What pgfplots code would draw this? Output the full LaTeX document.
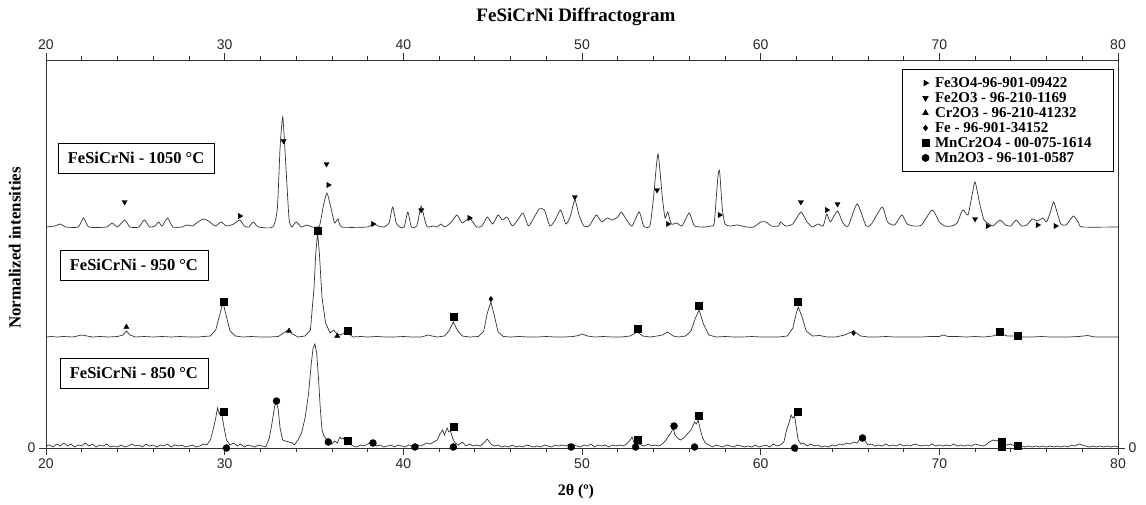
\documentclass[border=0pt]{standalone}
\usepackage{fontspec}
\setmainfont{Liberation Serif}
\newfontfamily\tickfont{Liberation Sans}
\usepackage{pgfplots}
\pgfplotsset{compat=1.18}
\definecolor{ln}{gray}{0.2}
\begin{document}
\begin{tikzpicture}
\pgfplotsset{
  base/.style={scale only axis, width=1072pt, height=388pt,
    xmin=20, xmax=80, ymin=0, ymax=388,
    xtick={20,30,...,80}, minor x tick num=4, ytick={0},
    tick align=outside, major tick length=7pt, minor tick length=4pt,
    /pgf/number format/assume math mode=true,
    tick label style={font=\tickfont\fontsize{14}{14}\selectfont, text=black!85},
    axis line style={ln, line width=0.8pt}, tick style={ln, line width=0.7pt}}
}
\begin{axis}[base, name=main, clip=true,
  legend style={at={(rel axis cs:0.9963,0.977)}, anchor=north east, draw=black, line width=0.8pt,
    font=\bfseries\fontsize{15}{16}\selectfont, inner xsep=20pt, inner ysep=6pt, row sep=-0.5pt,
    /tikz/every odd column/.append style={column sep=4pt}},
  legend cell align=left,
  mk/.style={only marks, black, mark options={solid, fill=black}},
]
% 1050 C
\addplot[ln, line width=0.7pt, smooth, tension=0.35, forget plot] coordinates {
(20,221)(20.5,222)(20.8,224)(21.1,221)(21.8,221)(22.1,230)(22.4,221)(23.4,221)(23.7,225)(24.0,221)(24.4,228)(24.7,221)
(25.2,221)(25.5,228)(25.8,221)(26.1,222)(26.3,226)(26.5,222)(26.8,230)(27.1,221)(27.6,221)(27.9,223)(28.2,222)(28.5,226)
(28.8,229)(29.1,227)(29.3,224)(29.5,222)(29.8,226)(30.1,222)(30.5,224)(30.85,228)(31.1,222)(31.35,221)(31.6,226)(31.9,221)
(32.7,221)(32.95,240)(33.1,300)(33.25,331)(33.4,290)(33.6,230)(33.75,221)(34.0,226)(34.3,221)(34.6,223)(34.9,221)(35.3,222)
(35.5,240)(35.72,255)(35.95,240)(36.15,225)(36.35,229)(36.55,221)(38.0,221)(38.3,224)(38.6,222)(38.9,221)(39.2,225)(39.4,241)(39.6,225)
(39.8,221)(40.05,221)(40.25,236)(40.45,221)(40.75,222)(41.0,242)(41.2,228)(41.35,221)(41.7,222)(41.9,221)(42.1,224)(42.3,221)
(42.5,223)(42.7,226)(43.0,233)(43.3,225)(43.7,230)(44.1,221)(44.4,222)(44.7,231)(45.0,224)(45.3,233)(45.55,228)(45.8,231)
(46.1,222)(46.4,228)(46.7,235)(47.0,222)(47.3,230)(47.6,239)(47.9,238)(48.2,222)(48.5,228)(48.8,238)(49.1,224)(49.35,232)
(49.6,248)(49.85,232)(50.1,222)(50.4,222)(50.8,233)(51.1,226)(51.4,230)(51.7,228)(52.0,231)(52.2,236)(52.5,228)(52.8,222)
(53.2,236)(53.45,222)(53.8,222)(54.0,250)(54.25,294)(54.5,250)(54.65,230)(54.8,236)(55.0,224)(55.3,225)(55.6,222)(56.0,235)
(56.3,222)(56.9,221)(57.2,222)(57.4,225)(57.6,270)(57.7,277)(57.85,240)(58.0,224)(58.3,222)(58.7,223)(59.2,221)(59.6,221)
(60.0,226)(60.3,226)(60.6,222)(61.0,222)(61.1,226)(61.4,222)(61.8,224)(62.25,236)(62.6,226)(62.9,221)(63.2,224)(63.5,222)
(63.7,234)(63.9,226)(64.3,237)(64.6,225)(64.9,222)(65.4,244)(65.9,222)(66.2,224)(66.8,241)(67.1,226)(67.5,223)(67.9,233)
(68.2,224)(68.6,222)(69.0,223)(69.6,238)(70.0,226)(70.3,222)(70.7,222)(71.0,225)(71.3,238)(71.6,233)(71.8,250)(72.0,266)
(72.25,245)(72.5,228)(72.8,224)(73.0,222)(73.4,228)(73.7,223)(74.0,222)(74.3,228)(74.6,222)(74.9,223)(75.2,229)(75.5,227)
(75.8,230)(76.0,226)(76.2,235)(76.4,246)(76.6,235)(76.8,224)(77.1,223)(77.5,232)(77.8,225)(78.0,221)(80,221)};
% 950 C
\addplot[ln, line width=0.7pt, forget plot] coordinates {
(20,111)(20.3,111.5)(20.6,111)(21,111.5)(21.5,111)(22.0,113)(22.3,112)(22.6,111)(23,111.5)(23.5,111)(24.0,111.5)(24.3,113)
(24.5,117)(24.7,113)(25.0,111)(25.5,111.5)(26,111)(26.5,111.5)(27,111)(27.5,111.5)(28,111)(28.5,111)(29.2,112)(29.5,118)
(29.75,135)(29.9,146)(30.05,135)(30.3,117)(30.6,112)(31,111)(31.5,111.5)(32,111)(32.5,111)(33.0,111.5)(33.3,115)(33.55,118)
(33.8,114)(34.1,111)(34.5,112)(34.8,118)(35.0,160)(35.1,195)(35.2,215)(35.3,195)(35.45,150)(35.65,125)(35.9,115)(36.1,118)
(36.3,114)(36.5,113)(36.75,116)(36.95,114)(37.2,111)(37.6,111.5)(38,111)(38.5,111.5)(39,111)(39.5,111)(40,111.5)(40.5,111)
(41,111)(41.4,113)(41.6,112)(41.9,111)(42.3,112)(42.55,117)(42.8,126)(43.05,117)(43.3,112)(43.7,111)(44.2,111.5)(44.5,117)
(44.7,135)(44.9,146)(45.1,132)(45.3,116)(45.6,111.5)(46,111)(46.5,111.5)(47,111)(47.5,111)(48,111.5)(48.5,111)(49,111)
(49.5,111.5)(49.8,112.5)(50.0,114)(50.3,112)(50.7,111)(51.2,111.5)(51.7,111)(52.2,111)(52.7,112)(53.1,116)(53.4,112)(53.8,111)
(54.2,112)(54.5,113)(54.8,116)(55.1,112)(55.4,111)(55.8,112)(56.1,117)(56.35,130)(56.55,138)(56.8,124)(57.1,113)(57.5,111)
(58,111.5)(58.5,111)(59,111)(59.5,111.5)(60,111)(60.5,111)(61,111)(61.5,112)(61.8,120)(62.0,135)(62.1,141)(62.3,132)
(62.55,117)(62.9,112)(63.3,112.5)(63.7,111)(64.2,111)(64.7,113)(65.2,117)(65.6,112)(66,111)(66.5,111)(67,111.5)(67.5,111)
(68,111)(68.5,111)(69,111)(69.5,111.5)(70,111.5)(70.2,113)(70.5,111.5)(71,111.5)(71.5,111)(72,111.5)(72.5,111)(73,112)
(73.4,115)(73.8,112)(74.3,112)(74.7,111)(75.2,111)(75.7,111.5)(76.2,111)(76.7,111)(77.2,111)(77.8,111.5)(78.3,112.5)(78.7,111)
(79.2,111)(80,111)};
% 850 C
\addplot[ln, line width=0.7pt, forget plot] coordinates {
(20.0,2)(20.2,3)(20.4,1)(20.6,4)(20.8,2)(21.0,5)(21.2,2)(21.4,4)(21.6,1)(21.8,3)(22.0,2)(22.2,5)(22.4,2)(22.6,4)(22.8,1)
(23.0,3)(23.2,2)(23.4,4)(23.6,1)(23.8,2)(24.0,1)(24.2,3)(24.4,1)(24.6,2)(24.8,4)(25.0,2)(25.2,3)(25.4,1)(25.6,4)(25.8,2)
(26.0,3)(26.2,1)(26.4,3)(26.6,2)(26.8,4)(27.0,1)(27.2,3)(27.4,2)(27.6,3)(27.8,1)(28.0,2)(28.2,3)(28.4,1)(28.6,2)(28.8,4)
(29.0,3)(29.2,8)(29.35,18)(29.5,30)(29.6,40)(29.7,34)(29.8,38)(29.95,22)(30.1,8)(30.3,3)(30.5,5)(30.7,2)(30.9,4)(31.1,1)
(31.3,3)(31.5,2)(31.7,1)(31.9,3)(32.1,2)(32.3,1)(32.5,10)(32.65,25)(32.8,42)(32.9,46)(33.0,38)(33.1,20)(33.25,8)(33.4,7)
(33.6,6)(33.8,5)(33.9,3)(34.1,8)(34.3,15)(34.5,30)(34.7,55)(34.85,85)(34.95,100)(35.05,104)(35.15,95)(35.25,70)(35.35,40)
(35.45,18)(35.55,12)(35.7,9)(35.85,5)(36.0,4)(36.15,7)(36.3,5)(36.45,11)(36.55,9)(36.65,10)(36.8,3)(37.0,4)(37.2,2)(37.4,1)
(37.6,3)(37.8,2)(38.0,4)(38.2,6)(38.35,5)(38.5,2)(38.7,3)(38.9,1)(39.1,2)(39.3,3)(39.5,1)(39.7,3)(39.9,2)(40.1,1)(40.3,3)
(40.5,2)(40.7,4)(40.9,2)(41.1,3)(41.3,5)(41.5,4)(41.7,6)(41.9,8)(42.05,14)(42.2,18)(42.3,13)(42.45,20)(42.55,16)(42.65,17)
(42.75,10)(42.9,5)(43.1,3)(43.3,6)(43.5,2)(43.7,4)(43.9,2)(44.1,3)(44.3,2)(44.5,5)(44.7,9)(44.9,4)(45.1,2)(45.3,3)(45.5,1)
(45.7,2)(45.9,1)(46.1,3)(46.3,1)(46.5,2)(46.7,1)(46.9,3)(47.1,2)(47.3,1)(47.5,2)(47.7,1)(47.9,3)(48.1,2)(48.3,1)(48.5,3)
(48.7,2)(48.9,3)(49.1,2)(49.3,4)(49.5,3)(49.7,2)(49.9,1)(50.1,3)(50.3,2)(50.5,4)(50.7,1)(50.9,3)(51.1,2)(51.3,3)(51.5,1)
(51.7,3)(51.9,2)(52.1,3)(52.3,2)(52.5,4)(52.7,8)(52.8,11)(52.9,6)(53.0,9)(53.1,5)(53.3,3)(53.5,2)(53.7,4)(53.9,2)(54.1,3)
(54.3,2)(54.5,4)(54.7,8)(54.85,12)(55.0,16)(55.1,20)(55.2,13)(55.35,10)(55.5,8)(55.7,10)(55.9,14)(56.1,18)(56.2,22)(56.3,26)
(56.4,24)(56.5,28)(56.6,20)(56.75,10)(56.9,5)(57.1,3)(57.3,1)(57.5,3)(57.7,2)(57.9,1)(58.1,3)(58.3,2)(58.5,1)(58.7,3)(58.9,2)
(59.1,1)(59.3,2)(59.5,1)(59.7,3)(59.9,1)(60.1,2)(60.3,3)(60.5,1)(60.7,4)(60.9,2)(61.1,3)(61.3,6)(61.45,18)(61.6,26)(61.7,33)
(61.8,30)(61.9,32)(62.0,20)(62.1,8)(62.25,4)(62.4,5)(62.6,2)(62.8,4)(63.0,2)(63.2,3)(63.4,1)(63.6,2)(63.8,1)(64.0,3)(64.2,2)
(64.4,4)(64.6,3)(64.8,5)(65.0,4)(65.2,6)(65.4,5)(65.55,9)(65.7,11)(65.85,7)(66.0,3)(66.2,4)(66.4,2)(66.6,3)(66.8,2)(67.0,4)
(67.2,2)(67.4,3)(67.6,2)(67.8,4)(68.0,2)(68.2,3)(68.4,2)(68.6,4)(68.8,3)(69.0,2)(69.2,3)(69.4,2)(69.6,4)(69.8,2)(70.0,3)
(70.2,2)(70.4,3)(70.6,2)(70.8,4)(71.0,2)(71.2,3)(71.4,2)(71.6,3)(71.8,2)(72.0,4)(72.2,3)(72.4,2)(72.6,3)(72.8,6)(73.0,8)
(73.2,7)(73.4,9)(73.6,5)(73.8,3)(74.0,4)(74.2,2)(74.4,3)(74.6,2)(74.8,1)(75.0,2)(75.2,1)(75.4,2)(75.6,1)(75.8,2)(76.0,1)
(76.2,2)(76.4,1)(76.6,2)(76.8,1)(77.0,2)(77.2,1)(77.4,3)(77.6,2)(77.8,4)(78.0,3)(78.2,2)(78.4,1)(78.6,2)(78.8,1)(79.0,2)
(79.2,1)(79.4,2)(79.6,1)(79.8,2)(80.0,1)};
% markers
% Fe3O4
\addplot[mk, mark=triangle*, mark size=3pt, mark options={rotate=-90}, forget plot] coordinates {
(30.85,232)(35.8,263)(38.3,224)(43.7,230)(54.8,224)(57.7,233)(63.7,238)(72.7,222)(75.5,223)(76.5,222)};
% Fe2O3
\addplot[mk, mark=triangle*, mark size=3pt, mark options={rotate=180}, forget plot] coordinates {
(24.4,246)(33.3,307)(35.7,284)(41.0,238)(49.6,251)(54.2,258)(62.25,246)(64.3,244)(72.0,229)};
% Cr2O3
\addplot[mk, mark=triangle*, mark size=3pt, forget plot] coordinates {
(24.5,121)(33.6,117)(36.3,112)};
% Fe
\addplot[mk, mark=diamond*, mark size=2.6pt, forget plot] coordinates {
(44.9,149)(65.2,115)};
% MnCr2O4
\addplot[mk, mark=square*, mark size=3.5pt, forget plot] coordinates {
(29.95,146)(35.2,217)(36.9,117)(42.8,131)(53.1,119)(56.55,142)(62.1,146)(73.4,116)(74.4,112)
(29.96,36)(36.9,7)(42.8,21)(53.1,8)(56.55,32)(62.1,36)(73.5,6)(73.5,1)(74.4,2)};
% Mn2O3
\addplot[mk, mark=*, mark size=3.5pt, forget plot] coordinates {
(30.1,0)(32.9,47)(35.8,6)(38.3,5)(40.65,1)(42.8,1)(49.4,1)(53.0,1)(55.15,22)(56.3,1)(61.9,0)(65.7,10)};
% legend
\addlegendimage{mk, mark=triangle*, mark size=3pt, mark options={rotate=-90}}
\addlegendentry{Fe3O4-96-901-09422}
\addlegendimage{mk, mark=triangle*, mark size=3pt, mark options={rotate=180}}
\addlegendentry{Fe2O3 - 96-210-1169}
\addlegendimage{mk, mark=triangle*, mark size=3pt}
\addlegendentry{Cr2O3 - 96-210-41232}
\addlegendimage{mk, mark=diamond*, mark size=2.6pt}
\addlegendentry{Fe - 96-901-34152}
\addlegendimage{mk, mark=square*, mark size=3.5pt}
\addlegendentry{MnCr2O4 - 00-075-1614}
\addlegendimage{mk, mark=*, mark size=3.5pt}
\addlegendentry{Mn2O3 - 96-101-0587}
\end{axis}
\begin{axis}[base, xticklabel pos=upper, yticklabel pos=right,
  axis line style={draw=none}, tick style={draw=none}, clip=false]
\node[font=\bfseries\fontsize{19}{19}\selectfont] at (axis cs:49.66,431) {FeSiCrNi Diffractogram};
\node[font=\bfseries\fontsize{16}{16}\selectfont] at (axis cs:49.66,-44) {2θ (º)};
\node[font=\bfseries\fontsize{17}{17}\selectfont, rotate=90] at (axis cs:18.25,200) {Normalized intensities};
\node[draw=black, line width=0.8pt, font=\bfseries\fontsize{16.5}{16.5}\selectfont, minimum width=156pt, minimum height=30pt] at (axis cs:25.04,290) {FeSiCrNi - 1050 °C};
\node[draw=black, line width=0.8pt, font=\bfseries\fontsize{16.5}{16.5}\selectfont, minimum width=148pt, minimum height=30pt] at (axis cs:24.92,183) {FeSiCrNi - 950 °C};
\node[draw=black, line width=0.8pt, font=\bfseries\fontsize{16.5}{16.5}\selectfont, minimum width=148pt, minimum height=30pt] at (axis cs:24.92,75) {FeSiCrNi - 850 °C};
\end{axis}
\path[use as bounding box] ([shift={(-46pt,-56pt)}]main.south west) rectangle ([shift={(28pt,60pt)}]main.north east);
\end{tikzpicture}
\end{document}
